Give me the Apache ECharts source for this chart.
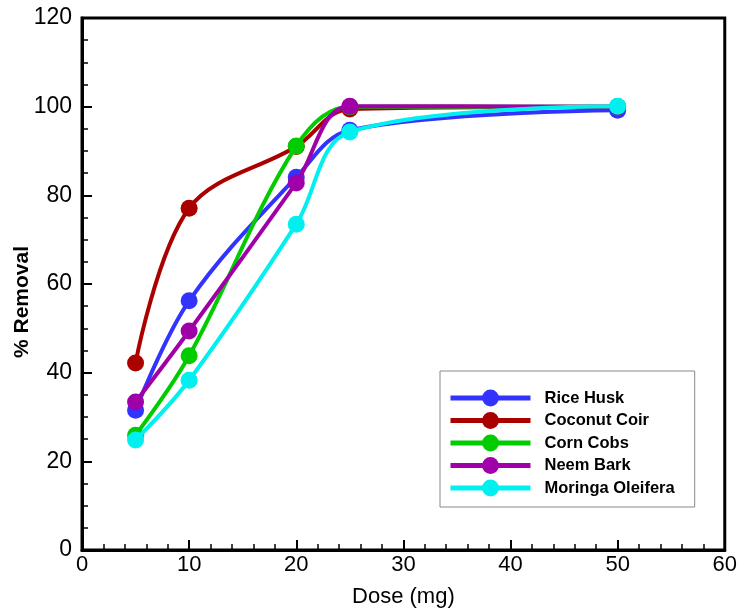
<!DOCTYPE html>
<html><head><meta charset="utf-8">
<script src="https://cdn.jsdelivr.net/npm/echarts@6/dist/echarts.min.js"></script>
<style>html,body{margin:0;padding:0;background:#fff}#c{width:740px;height:613px}</style>
</head><body><div id="c"></div>
<script>
const doses = [5, 10, 20, 25, 50];
const riceHusk = [31.5, 56.2, 84.1, 94.7, 99.2];
const coconutCoir = [42.2, 77.1, 91.0, 99.5, 100];
const cornCobs = [25.9, 43.8, 91.1, 100, 100];
const neemBark = [33.4, 49.4, 82.8, 100.1, 100];
const moringa = [24.8, 38.3, 73.5, 94.3, 100.1];
const seriesNames = ['Rice Husk', 'Coconut Coir', 'Corn Cobs', 'Neem Bark', 'Moringa Oleifera'];
const seriesColors = ['#3333ff', '#aa0000', '#00cc00', '#a000a8', '#00f0f0'];
const allData = [riceHusk, coconutCoir, cornCobs, neemBark, moringa];

const chart = echarts.init(document.getElementById('c'));
const font = 'Liberation Sans, Arial, sans-serif';
chart.setOption({
  animation: false,
  grid: {left: 82, top: 18, right: 13, bottom: 63, show: true, borderColor: '#000', borderWidth: 3},
  xAxis: {
    type: 'value', min: 0, max: 60, interval: 10,
    axisLine: {show: true, lineStyle: {color: '#000', width: 3}},
    axisTick: {show: true, inside: true, length: 10, lineStyle: {color: '#000', width: 2}},
    minorTick: {show: true, splitNumber: 5, length: 6, lineStyle: {color: '#000', width: 1.5}},
    splitLine: {show: false},
    axisLabel: {color: '#000', fontSize: 22, fontFamily: font, margin: 4},
    name: 'Dose (mg)', nameLocation: 'middle', nameGap: 36,
    nameTextStyle: {color: '#000', fontSize: 22, fontFamily: font}
  },
  yAxis: {
    type: 'value', min: 0, max: 120, interval: 20,
    axisLine: {show: true, lineStyle: {color: '#000', width: 3}},
    axisTick: {show: true, inside: true, length: 10, lineStyle: {color: '#000', width: 2}},
    minorTick: {show: true, splitNumber: 4, length: 6, lineStyle: {color: '#000', width: 1.5}},
    splitLine: {show: false},
    axisLabel: {color: '#000', fontSize: 23, fontFamily: font, margin: 10}
  },
  graphic: [{
    type: 'text', x: 22, y: 302, rotation: Math.PI / 2,
    style: {text: '% Removal', fill: '#000', font: 'bold 21px ' + font, textAlign: 'center', textVerticalAlign: 'middle'}
  }],
  legend: {
    orient: 'vertical', left: 440, top: 371,
    padding: [18.5, 20, 10.5, 8],
    borderColor: '#888', borderWidth: 1, backgroundColor: '#fff',
    itemWidth: 80, itemHeight: 21, itemGap: 5.5,
    lineStyle: {width: 5},
    textStyle: {color: '#000', fontSize: 16.5, fontWeight: 'bold', fontFamily: font, padding: [0, 0, 0, 9]},
    data: seriesNames
  },
  series: seriesNames.map((n, i) => ({
    name: n, type: 'line', smooth: 0.35,
    data: doses.map((d, j) => [d, allData[i][j]]),
    symbol: 'circle', symbolSize: 17,
    lineStyle: {color: seriesColors[i], width: 4},
    itemStyle: {color: seriesColors[i]},
    z: 2 + i
  }))
});
</script></body></html>
